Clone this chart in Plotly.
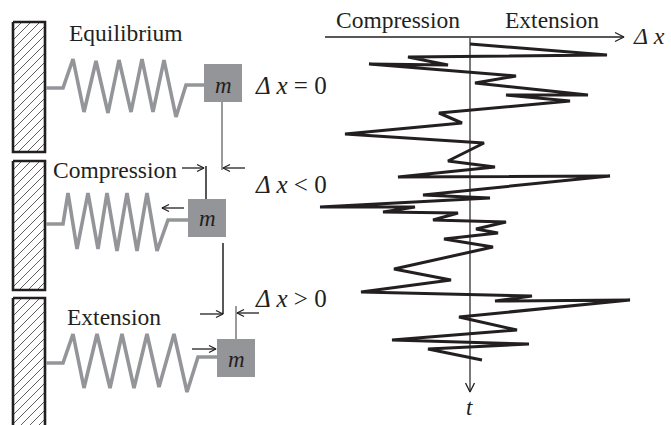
import plotly.graph_objects as go

INK = "#231f20"
GRAY = "#939598"
FONT = "Liberation Serif"

# time series trace (displacement pixel position, time pixel position)
trace_x = [470,607,408,448,369,516,475,588,506,570,439,462,345,484,448,495,398,610,423,490,320,415,383,458,433,506,476,498,444,493,394,451,361,532,495,630,459,517,392,529,428,482]
trace_y = [44,55,57,65,64,76,83,95,95,101,113,123,134,143,161,167,177,176,195,198,207,207,212,213,220,222,229,233,239,247,269,280,292,296,301,300,317,330,340,344,349,360]

# springs
spring1_x = [46,63,73,84,96,108,119,131,142,153,164,176,186,204]
spring1_y = [88,88,59,112,61,113,60,112,59,112,60,117,85,85]
spring2_x = [46,63,68,77,88,98,107,117,127,137,147,157,168,188]
spring2_y = [224,224,193,249,193,249,193,251,193,251,193,251,220,220]
spring3_x = [46,63,73,84,97,110,122,134,147,159,174,187,198,217]
spring3_y = [363,363,334,388,334,388,334,388,334,387,334,392,357,357]

# walls: left, right, top, bottom
walls = [(13,45,22,152),(13,45,161,290),(13,45,298,440)]
# masses: left, right, top, bottom
masses = [(204,242,64,102),(188,226,199,237),(217,255,339,377)]
mass_labels = [(223,85),(207,218),(236,359)]

# guide lines: x0,y0,x1,y1,colour
guides = [(222,102,222,170,"#77787b"),(206,166,206,199,INK),(223,243,223,314,INK),(236,306,236,339,"#77787b")]
# arrows: tail x,y, tip x,y
arrows = [(245,168,223,168),(182,168,204,168),(184,208,162,208),(200,314,223,314),(259,313,237,313),(192,349,216,349)]
axis_arrows = [(325,37,624,37),(470,38,470,392)]

# text: label, left x, centre y, size
labels = [
    ("Equilibrium",68,33,23.5),("Compression",52,170,23.5),("Extension",66,317,23.5),
    ("Compression",335,20,23.5),("Extension",504,20,23.5),
    ("<i>Δ x</i> = 0",254,85,25),("<i>Δ x</i> &lt; 0",254,184,25),("<i>Δ x</i> &gt; 0",254,298,25),
    ("<i>Δ x</i>",632,36,24),
]
HATCH_STEP = 9

fig = go.Figure()

def line(xs, ys, color=INK, width=1.3):
    fig.add_trace(go.Scatter(x=xs, y=ys, mode="lines", line=dict(color=color, width=width), hoverinfo="skip", showlegend=False))

def head(x0, y0, x1, y1, size=8, spread=4):
    L = ((x1-x0)**2+(y1-y0)**2)**0.5
    ux, uy = (x1-x0)/L, (y1-y0)/L
    px, py = -uy, ux
    line([x1-ux*size+px*spread, x1, x1-ux*size-px*spread],
         [y1-uy*size+py*spread, y1, y1-uy*size-py*spread])

for l, r, t, b in walls:
    hx, hy = [], []
    c = l + t + HATCH_STEP
    while c < r + b:
        # diagonal x + y = c clipped to the wall rectangle
        x_a = max(l, c - b); x_b = min(r, c - t)
        hx += [x_a, x_b, None]; hy += [c - x_a, c - x_b, None]
        c += HATCH_STEP
    line(hx, hy, "#4d4d4f", 0.9)
    line([l,r,r,l,l], [t,t,b,b,t], INK, 2.6)

for sx, sy in [(spring1_x,spring1_y),(spring2_x,spring2_y),(spring3_x,spring3_y)]:
    line(sx, sy, GRAY, 3.6)

for l, r, t, b in masses:
    fig.add_trace(go.Scatter(x=[l,r,r,l,l], y=[t,t,b,b,t], mode="lines", fill="toself",
        fillcolor=GRAY, line=dict(color=GRAY, width=0), hoverinfo="skip", showlegend=False))

for x0, y0, x1, y1, c in guides:
    line([x0,x1],[y0,y1],c,1.5)
for x0, y0, x1, y1 in arrows:
    line([x0,x1],[y0,y1])
    head(x0,y0,x1,y1,7,3.5)
for x0, y0, x1, y1 in axis_arrows:
    line([x0,x1],[y0,y1],"#4d4d4f" if x0==x1 else INK,1.5)
    head(x0,y0,x1,y1,9,4.5)

line(trace_x, trace_y, INK, 3)

ann = []
for txt, x, y, s in labels:
    ann.append(dict(x=x, y=y, text=txt, xanchor="left", yanchor="middle", showarrow=False,
                    borderpad=0, font=dict(family=FONT, size=s, color=INK)))
for x, y in mass_labels:
    ann.append(dict(x=x, y=y, text="<i>m</i>", xanchor="center", yanchor="middle", showarrow=False,
                    borderpad=0, font=dict(family=FONT, size=23, color=INK)))
ann.append(dict(x=469, y=407, text="<i>t</i>", xanchor="center", yanchor="middle", showarrow=False,
                borderpad=0, font=dict(family=FONT, size=23, color=INK)))

fig.update_layout(width=671, height=425, margin=dict(l=0,r=0,t=0,b=0),
    paper_bgcolor="white", plot_bgcolor="white", annotations=ann, showlegend=False,
    xaxis=dict(range=[0,671], visible=False, fixedrange=True),
    yaxis=dict(range=[425,0], visible=False, fixedrange=True))

fig.write_html("out.html", config=dict(displayModeBar=False),
               post_script="document.body.style.margin='0';")
